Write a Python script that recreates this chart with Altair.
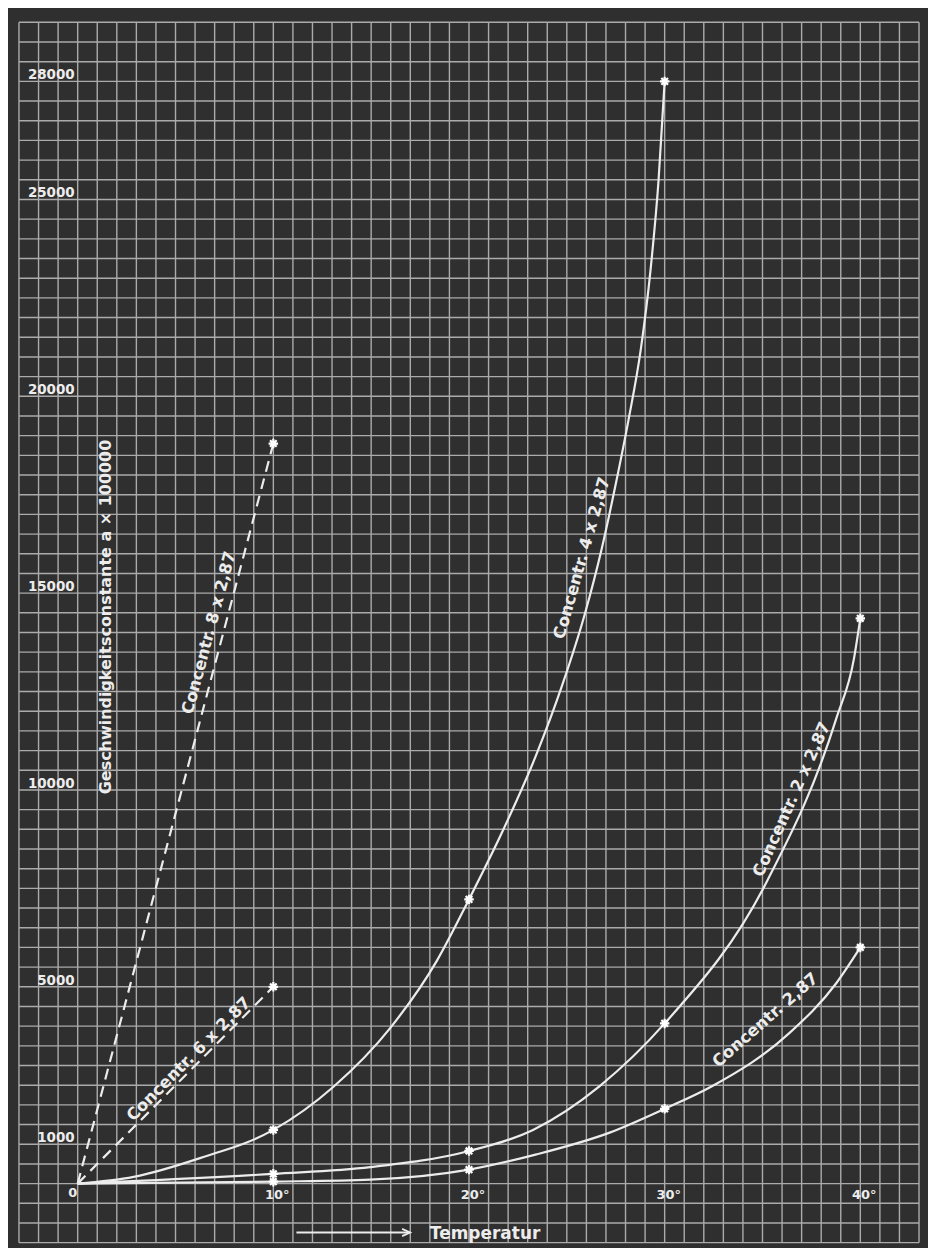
import altair as alt
import pandas as pd

temps = [0, 10, 20, 30, 40]
conc_1 = [0, 50, 355, 1900, 6000]        # Concentr. 2,87
conc_2 = [0, 248, 830, 4070, 14360]      # Concentr. 2 x 2,87
conc_4 = [0, 1364, 7220, 28000]          # Concentr. 4 x 2,87
conc_6 = [0, 5000]                       # Concentr. 6 x 2,87 (dashed)
conc_8 = [0, 18800]                      # Concentr. 8 x 2,87 (dashed)

# ---- drawn curves, read along the lines of the reference ----
curve_1_t = [0, 10, 14.95, 20, 23.45, 27.19, 30, 32.44, 36.37, 38.77, 40]
curve_1_v = [0, 50, 100, 355, 743, 1295, 1900, 2479, 3822, 5090, 6000]
curve_2_t = [0, 10, 14.95, 20, 23.27, 26.68, 30, 35.25, 38.77, 39.68, 40]
curve_2_v = [0, 248, 418, 830, 1364, 2479, 4070, 7700, 11810, 13350, 14360]
curve_4_t = [0, 2.86, 6.29, 10, 13.06, 15.97, 18.37, 20, 21.78, 23.42, 24.79,
             25.92, 26.78, 27.5, 28.16, 28.78, 29.28, 29.69, 30]
curve_4_v = [0, 172, 654, 1364, 2454, 3950, 5672, 7220, 9020, 10870, 12700,
             14470, 16120, 17770, 19420, 21190, 23220, 25500, 28000]

y_ticks = [1000, 5000, 10000, 15000, 20000, 25000, 28000]
x_ticks = [10, 20, 30, 40]
x_tick_labels = ["10°", "20°", "30°", "40°"]

curve_labels = ["Concentr. 2,87", "Concentr. 2 x 2,87", "Concentr. 4 x 2,87",
                "Concentr. 6 x 2,87", "Concentr. 8 x 2,87"]
curve_label_x = [35.15, 36.5, 25.78, 5.68, 6.72]
curve_label_y = [4150, 9756, 15890, 3160, 13990]
curve_label_angle = [319, 294, 286, 315, 285]

y_title = "Geschwindigkeitsconstante a × 100000"
x_title = "Temperatur"

x_grid = list(range(-3, 44))
y_grid = list(range(-1500, 29501, 500))

# ---- tables ----
solid = pd.concat([
    pd.DataFrame({"t": curve_1_t, "v": curve_1_v, "s": "c1"}),
    pd.DataFrame({"t": curve_2_t, "v": curve_2_v, "s": "c2"}),
    pd.DataFrame({"t": curve_4_t, "v": curve_4_v, "s": "c4"}),
], ignore_index=True)

def series_df(name, ys):
    return pd.DataFrame({"t": temps[:len(ys)], "v": ys, "s": name})

dashed = pd.concat([series_df("c6", conc_6), series_df("c8", conc_8)],
                   ignore_index=True)
stars = pd.concat([series_df("c1", conc_1), series_df("c2", conc_2),
                   series_df("c4", conc_4), dashed], ignore_index=True)
stars = stars[stars["t"] > 0]

ytick_df = pd.DataFrame({"v": y_ticks, "t": [-0.15] * len(y_ticks),
                         "lab": [str(v) for v in y_ticks]})
xtick_df = pd.DataFrame({"t": x_ticks, "v": [-280] * len(x_ticks),
                         "lab": x_tick_labels})
zero_df = pd.DataFrame({"t": [-0.25], "v": [-230], "lab": ["0"]})
lab_df = pd.DataFrame({"lab": curve_labels, "t": curve_label_x,
                       "v": curve_label_y, "a": curve_label_angle})
ytitle_df = pd.DataFrame({"t": [1.44], "v": [14394], "lab": [y_title]})
xtitle_df = pd.DataFrame({"t": [18.0], "v": [-1292], "lab": [x_title]})
arrow_df = pd.DataFrame({"t": [11.18], "t2": [16.99], "v": [-1242]})
xgrid_df = pd.DataFrame({"t": x_grid})
ygrid_df = pd.DataFrame({"v": y_grid})

WHITE = "#ececec"
GRID = "#ababab"
FONT = "DejaVu Sans"

xs = alt.Scale(domain=[-3, 43], nice=False, zero=False)
ys = alt.Scale(domain=[-1500, 29500], nice=False, zero=False)
X = alt.X("t:Q", scale=xs, axis=None)
Y = alt.Y("v:Q", scale=ys, axis=None)

vgrid = alt.Chart(xgrid_df).mark_rule(color=GRID, strokeWidth=1.4).encode(x=X)
hgrid = alt.Chart(ygrid_df).mark_rule(color=GRID, strokeWidth=1.4).encode(y=Y)

solid_lines = alt.Chart(solid).mark_line(
    interpolate="monotone", color=WHITE, strokeWidth=2.2
).encode(x=X, y=Y, detail="s:N")

dashed_lines = alt.Chart(dashed).mark_line(
    color=WHITE, strokeWidth=2.2, strokeDash=[11, 7]
).encode(x=X, y=Y, detail="s:N")

star = "M-1,0L1,0M0,-1L0,1M-0.7,-0.7L0.7,0.7M-0.7,0.7L0.7,-0.7"
pts = alt.Chart(stars).mark_point(
    shape=star, size=90, filled=False, color="#ffffff", strokeWidth=2.2,
    opacity=1
).encode(x=X, y=Y)

ylabels = alt.Chart(ytick_df).mark_text(
    align="right", baseline="alphabetic", dy=-2, font=FONT,
    fontWeight="bold", fontSize=13.5, color=WHITE
).encode(x=X, y=Y, text="lab:N")

xlabels = alt.Chart(xtick_df).mark_text(
    align="center", baseline="middle", dx=4, font=FONT,
    fontWeight="bold", fontSize=13, color=WHITE
).encode(x=X, y=Y, text="lab:N")

zero_lab = alt.Chart(zero_df).mark_text(
    align="center", baseline="middle", font=FONT,
    fontWeight="bold", fontSize=13, color=WHITE
).encode(x=X, y=Y, text="lab:N")

clabels = alt.Chart(lab_df).mark_text(
    align="center", baseline="middle", font=FONT, fontWeight="bold",
    fontSize=16.5, color=WHITE
).encode(x=X, y=Y, text="lab:N", angle=alt.Angle("a:Q", scale=None))

ytitle = alt.Chart(ytitle_df).mark_text(
    align="center", baseline="middle", angle=270, font=FONT,
    fontWeight="bold", fontSize=16, color=WHITE
).encode(x=X, y=Y, text="lab:N")

xtitle = alt.Chart(xtitle_df).mark_text(
    align="left", baseline="middle", font=FONT, fontWeight="bold",
    fontSize=17, color=WHITE
).encode(x=X, y=Y, text="lab:N")

arrow_line = alt.Chart(arrow_df).mark_rule(
    color=WHITE, strokeWidth=1.8
).encode(x=X, x2="t2:Q", y=Y)

arrow_head = alt.Chart(arrow_df).mark_point(
    shape="M-1,-0.45L0,0L-1,0.45", size=256, filled=False, color=WHITE,
    strokeWidth=1.8, opacity=1
).encode(x=alt.X("t2:Q", scale=xs, axis=None), y=Y)

chart = alt.layer(
    vgrid, hgrid, solid_lines, dashed_lines, pts, ylabels, xlabels, zero_lab,
    clabels, ytitle, xtitle, arrow_line, arrow_head
).properties(
    width=902, height=1223,
    padding={"left": 10, "top": 12, "right": 8, "bottom": 3},
    background="#2f2f2f"
).configure_view(strokeWidth=0)

chart.save("out.html", embed_options={"renderer": "svg", "actions": False})
